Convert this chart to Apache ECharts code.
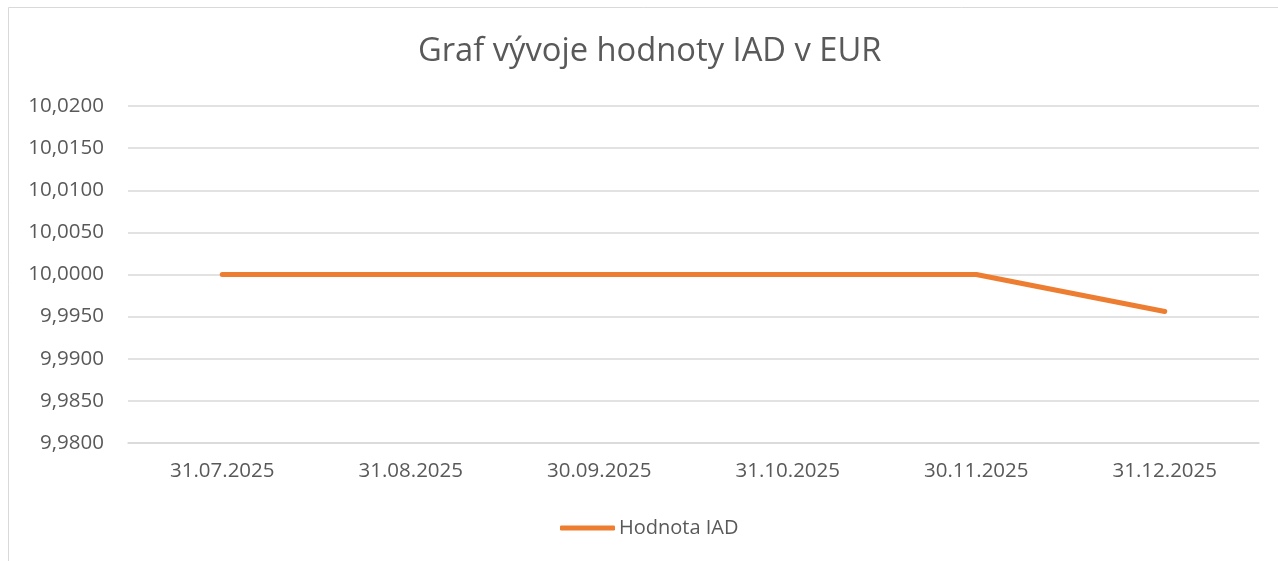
<!DOCTYPE html>
<html>
<head>
<meta charset="utf-8">
<script src="https://cdn.jsdelivr.net/npm/echarts@6/dist/echarts.min.js"></script>
<style>
  html, body { margin: 0; padding: 0; background: #fff; }
  #chart { width: 1278px; height: 561px; }
</style>
</head>
<body>
<div id="chart"></div>
<script>
// data
const dates = ['31.07.2025', '31.08.2025', '30.09.2025', '31.10.2025', '30.11.2025', '31.12.2025'];
const iadValues = [10.0, 10.0, 10.0, 10.0, 10.0, 9.9956];
const seriesName = 'Hodnota IAD';

const textColor = '#595959';
const gridColor = '#d9d9d9';
const font = '"Open Sans", sans-serif';

const myChart = echarts.init(document.getElementById('chart'));

const option = {
  animation: false,
  textStyle: { fontFamily: font },
  graphic: [
    {
      type: 'rect',
      shape: { x: 8.5, y: 7.5, width: 1400, height: 700 },
      style: { fill: 'none', stroke: gridColor, lineWidth: 1 },
      silent: true,
    },
  ],
  title: {
    text: 'Graf vývoje hodnoty IAD v EUR',
    left: 413,
    top: 30,
    textStyle: { color: textColor, fontSize: 32.7, fontWeight: 'normal', fontFamily: font },
  },
  legend: {
    bottom: 18,
    left: 555,
    itemWidth: 55,
    itemHeight: 5,
    itemGap: 5,
    textStyle: { color: textColor, fontSize: 20, fontFamily: font, padding: [0, 0, 0, -1] },
    data: [{ name: seriesName, icon: 'roundRect' }],
  },
  grid: {
    left: 128,
    right: 19,
    top: 106,
    bottom: 118,
    containLabel: false,
  },
  xAxis: {
    type: 'category',
    data: dates,
    boundaryGap: true,
    axisLine: { show: true, lineStyle: { color: gridColor, width: 1.5 } },
    axisTick: { show: false },
    axisLabel: { color: textColor, fontSize: 20.5, margin: 18, fontFamily: font },
  },
  yAxis: {
    type: 'value',
    min: 9.98,
    max: 10.02,
    interval: 0.005,
    axisLine: { show: false },
    axisTick: { show: false },
    axisLabel: {
      color: textColor,
      fontSize: 20.5,
      margin: 24,
      fontFamily: font,
      formatter: (v) => v.toFixed(4).replace('.', ','),
    },
    splitLine: { lineStyle: { color: gridColor, width: 1.5 } },
  },
  series: [
    {
      name: seriesName,
      type: 'line',
      data: iadValues,
      showSymbol: false,
      symbol: 'none',
      lineStyle: { color: '#ED7D31', width: 5, cap: 'round', join: 'round' },
      itemStyle: { color: '#ED7D31' },
    },
  ],
};

option && myChart.setOption(option);
</script>
</body>
</html>
